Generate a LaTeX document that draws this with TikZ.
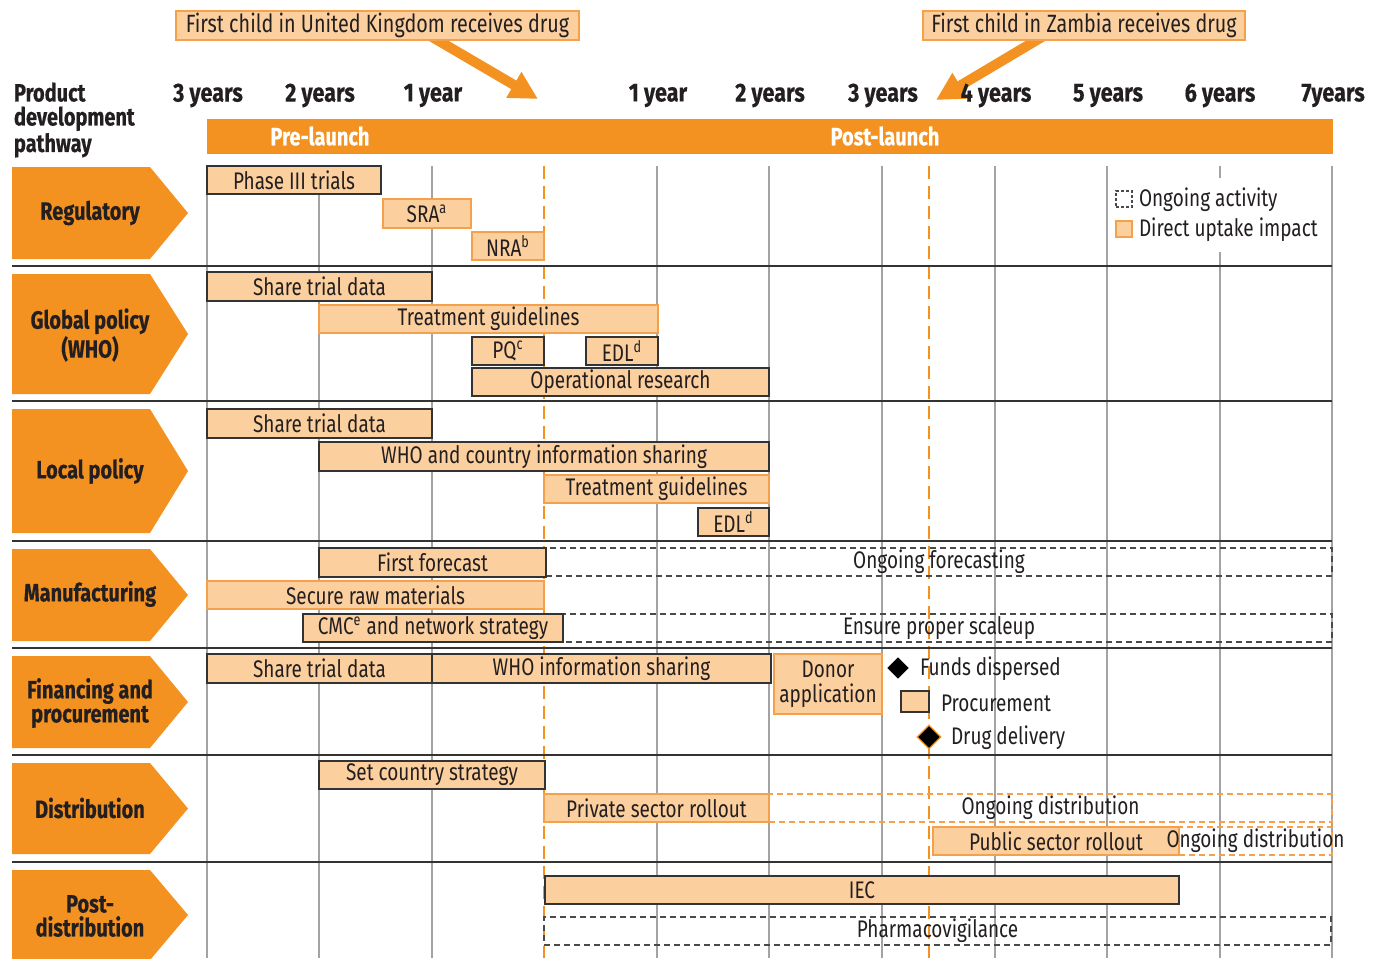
\documentclass[tikz,border=0pt]{standalone}
\usepackage{fontspec}
\setmainfont{Fira Sans}[FakeStretch=0.79]
\newfontfamily\headfont{Fira Sans}[FakeStretch=0.80, FakeBold=0.4]
\newfontfamily\yearfont{Fira Sans}[FakeStretch=0.83, FakeBold=0.4]
\usetikzlibrary{arrows.meta,shapes.geometric,calc,backgrounds}

\definecolor{orangemain}{HTML}{F39220}
\definecolor{orangelight}{HTML}{FCCF9E}
\definecolor{orangeedge}{HTML}{F5A04A}
\definecolor{inkdark}{HTML}{231F20}
\definecolor{edgedark}{HTML}{333333}
\definecolor{dashgray}{HTML}{4A4A4A}
\definecolor{gridgray}{HTML}{A3A3A3}

% activity bar: name, x1, y1, x2, y2, style, text
\newcommand\actbox[7]{%
  \node[#6, minimum width={(#4-#2)*0.5pt}, minimum height={(#5-#3)*0.5pt}]
    (#1) at ({(#2+#4)/2},{(#3+#5)/2}) {#7};}

% row label arrow: top, bottom
\newcommand\chevron[2]{%
  \fill[orangemain] (12,#1) -- (150,#1) -- (188,{(#1+#2)/2}) -- (150,#2) -- (12,#2) -- cycle;}

\tikzset{
  bodytext/.style={inner sep=0pt, outer sep=0pt, text=inkdark,
    font=\fontsize{12}{12.5}\selectfont},
  headtext/.style={inner sep=0pt, outer sep=0pt, text=inkdark,
    font=\headfont\bfseries\fontsize{12.5}{12}\selectfont},
  yearlbl/.style={inner sep=0pt, outer sep=0pt, text=inkdark,
    font=\yearfont\bfseries\fontsize{13}{12}\selectfont},
  boxbase/.style={bodytext, line width=0.7pt, align=center},
  impactdark/.style={boxbase, fill=orangelight, draw=edgedark},
  impactorange/.style={boxbase, fill=orangelight, draw=orangeedge},
  ongoingdark/.style={boxbase, draw=dashgray, dash pattern=on 3pt off 2pt},
  ongoingorange/.style={boxbase, draw=orangeedge, dash pattern=on 3pt off 2pt},
  callout/.style={boxbase, fill=orangelight, draw=orangeedge,
    font=\fontsize{12.5}{12.5}\selectfont},
  bigarrow/.style={orangemain, line width=5pt,
    -{Triangle[length=14pt, width=14pt]}},
  gridline/.style={gridgray, line width=0.6pt},
  rowline/.style={edgedark, line width=0.7pt},
  launchline/.style={orangemain, line width=1.1pt, dash pattern=on 6.5pt off 3.5pt},
  keydiamond/.style={diamond, aspect=1, inner sep=0pt, minimum width=12pt,
    minimum height=12pt, fill=black, line width=0.6pt},
}

\begin{document}
\begin{tikzpicture}[x=0.5pt, y=-0.5pt]
\useasboundingbox (0,0) rectangle (1380,958);

% callouts and their arrows
\actbox{ukcall}{176}{11}{579}{40}{callout}{First child in United Kingdom receives drug}
\actbox{zmcall}{923}{11}{1245}{40}{callout}{First child in Zambia receives drug}
\coordinate (ukFrom) at (427,34);
\coordinate (ukTip) at (538,99);
\coordinate (zmFrom) at (1047,34);
\coordinate (zmTip) at (936,100);
\begin{scope}[on background layer]
  \fill[white] (0,0) rectangle (1380,958);
  \draw[bigarrow] (ukFrom) -- (ukTip);
  \draw[bigarrow] (zmFrom) -- (zmTip);
\end{scope}

% header
\node[headtext, align=left, anchor=west] (pathway) at (14,120) {Product\\development\\pathway};
\foreach \x/\t [count=\i] in {208/3 years, 320/2 years, 433/1 year, 658/1 year,
    770/2 years, 883/3 years, 996/4 years, 1108/5 years, 1220/6 years, 1333/7years}
  \node[yearlbl] (year\i) at (\x,95.5) {\t};
\fill[orangemain] (207,119) rectangle (1333,154);
\node[headtext, text=white] (prelaunch) at (320,136) {Pre-launch};
\node[headtext, text=white] (postlaunch) at (885,136) {Post-launch};

% time grid
\foreach \x in {207,319,432,657,769,882,995,1107,1220,1332}
  \draw[gridline] (\x,166) -- (\x,958);
\draw[launchline] (544,166) -- (544,958);
\draw[launchline] (929,166) -- (929,958);
\foreach \y in {266,401,541,648,755,862}
  \draw[rowline] (12,\y) -- (1332,\y);

% row labels
\chevron{167}{259}
\chevron{274}{394}
\chevron{409}{533}
\chevron{549}{641}
\chevron{656}{748}
\chevron{763}{854}
\chevron{870}{960}
\node[headtext] (rowReg) at (90,213) {Regulatory};
\node[headtext, align=center] (rowGlob) at (90,335) {Global policy\\(WHO)};
\node[headtext] (rowLoc) at (90,471) {Local policy};
\node[headtext] (rowMan) at (90,594) {Manufacturing};
\node[headtext, align=center] (rowFin) at (90,703) {Financing and\\procurement};
\node[headtext] (rowDist) at (90,808) {Distribution};
\node[headtext, align=center] (rowPost) at (90,916) {Post-\\distribution};

% regulatory
\actbox{phase}{207}{166}{381}{194}{impactdark}{Phase III trials}
\actbox{sra}{383}{199}{471}{228}{impactorange}{SRA\textsuperscript{a}}
\actbox{nra}{472}{232}{544}{260}{impactorange}{NRA\textsuperscript{b}}

% global policy
\actbox{gShare}{207}{272}{432}{301}{impactdark}{Share trial data}
\actbox{gTreat}{319}{305}{658}{333}{impactorange}{Treatment guidelines}
\actbox{gPQ}{472}{337}{544}{365}{impactdark}{PQ\textsuperscript{c}}
\actbox{gEDL}{586}{337}{658}{365}{impactdark}{EDL\textsuperscript{d}}
\actbox{gOpRes}{472}{368}{769}{396}{impactdark}{Operational research}

% local policy
\actbox{lShare}{207}{409}{432}{438}{impactdark}{Share trial data}
\actbox{lWHO}{319}{442}{769}{471}{impactdark}{WHO and country information sharing}
\actbox{lTreat}{544}{475}{769}{503}{impactorange}{Treatment guidelines}
\actbox{lEDL}{698}{508}{769}{536}{impactdark}{EDL\textsuperscript{d}}

% manufacturing
\actbox{mOngoing}{546}{548}{1332}{576}{ongoingdark}{Ongoing forecasting}
\actbox{mFirst}{319}{548}{546}{577}{impactdark}{First forecast}
\actbox{mSecure}{207}{581}{544}{609}{impactorange}{Secure raw materials}
\actbox{mScale}{546}{614}{1332}{642}{ongoingdark}{Ensure proper scaleup}
\actbox{mCMC}{303}{614}{563}{642}{impactdark}{CMC\textsuperscript{e} and network strategy}

% financing and procurement
\actbox{fShare}{207}{654}{432}{683}{impactdark}{Share trial data}
\actbox{fWHO}{432}{654}{771}{683}{impactdark}{WHO information sharing}
\actbox{fDonor}{774}{654}{882}{714}{impactorange}{Donor\\application}
\node[keydiamond, draw=white] (fundsKey) at (898,668) {};
\node[bodytext, anchor=west] (funds) at (920,669) {Funds dispersed};
\actbox{procKey}{901}{691}{929}{712}{impactdark}{}
\node[bodytext, anchor=west] (proc) at (941,703) {Procurement};
\node[keydiamond, draw=orangemain] (drugKey) at (929,737) {};
\node[bodytext, anchor=west] (drug) at (951,738) {Drug delivery};

% distribution
\actbox{dSet}{319}{761}{545}{789}{impactdark}{Set country strategy}
\actbox{dOngoing}{769}{794}{1332}{822}{ongoingorange}{Ongoing distribution}
\actbox{dPrivate}{544}{794}{769}{822}{impactorange}{Private sector rollout}
\actbox{dOngoingB}{1179}{827}{1332}{855}{ongoingorange}{}
\actbox{dPublic}{933}{827}{1179}{855}{impactorange}{Public sector rollout}
\node[bodytext] (dOngoingBText) at (dOngoingB.center) {Ongoing distribution};

% post-distribution
\actbox{pIEC}{545}{876}{1179}{904}{impactdark}{IEC}
\actbox{pPharma}{544}{917}{1331}{945}{ongoingdark}{Pharmacovigilance}

% key
\fill[white] (1112,178) rectangle (1328,252);
\actbox{keyOngoing}{1116}{191}{1132}{207}{ongoingdark, dash pattern=on 1.5pt off 1pt}{}
\node[bodytext, anchor=west] (keyOngoingText) at (1139,200) {Ongoing activity};
\actbox{keyImpact}{1116}{221}{1132}{237}{impactorange}{}
\node[bodytext, anchor=west] (keyImpactText) at (1139,230) {Direct uptake impact};
\end{tikzpicture}
\end{document}
